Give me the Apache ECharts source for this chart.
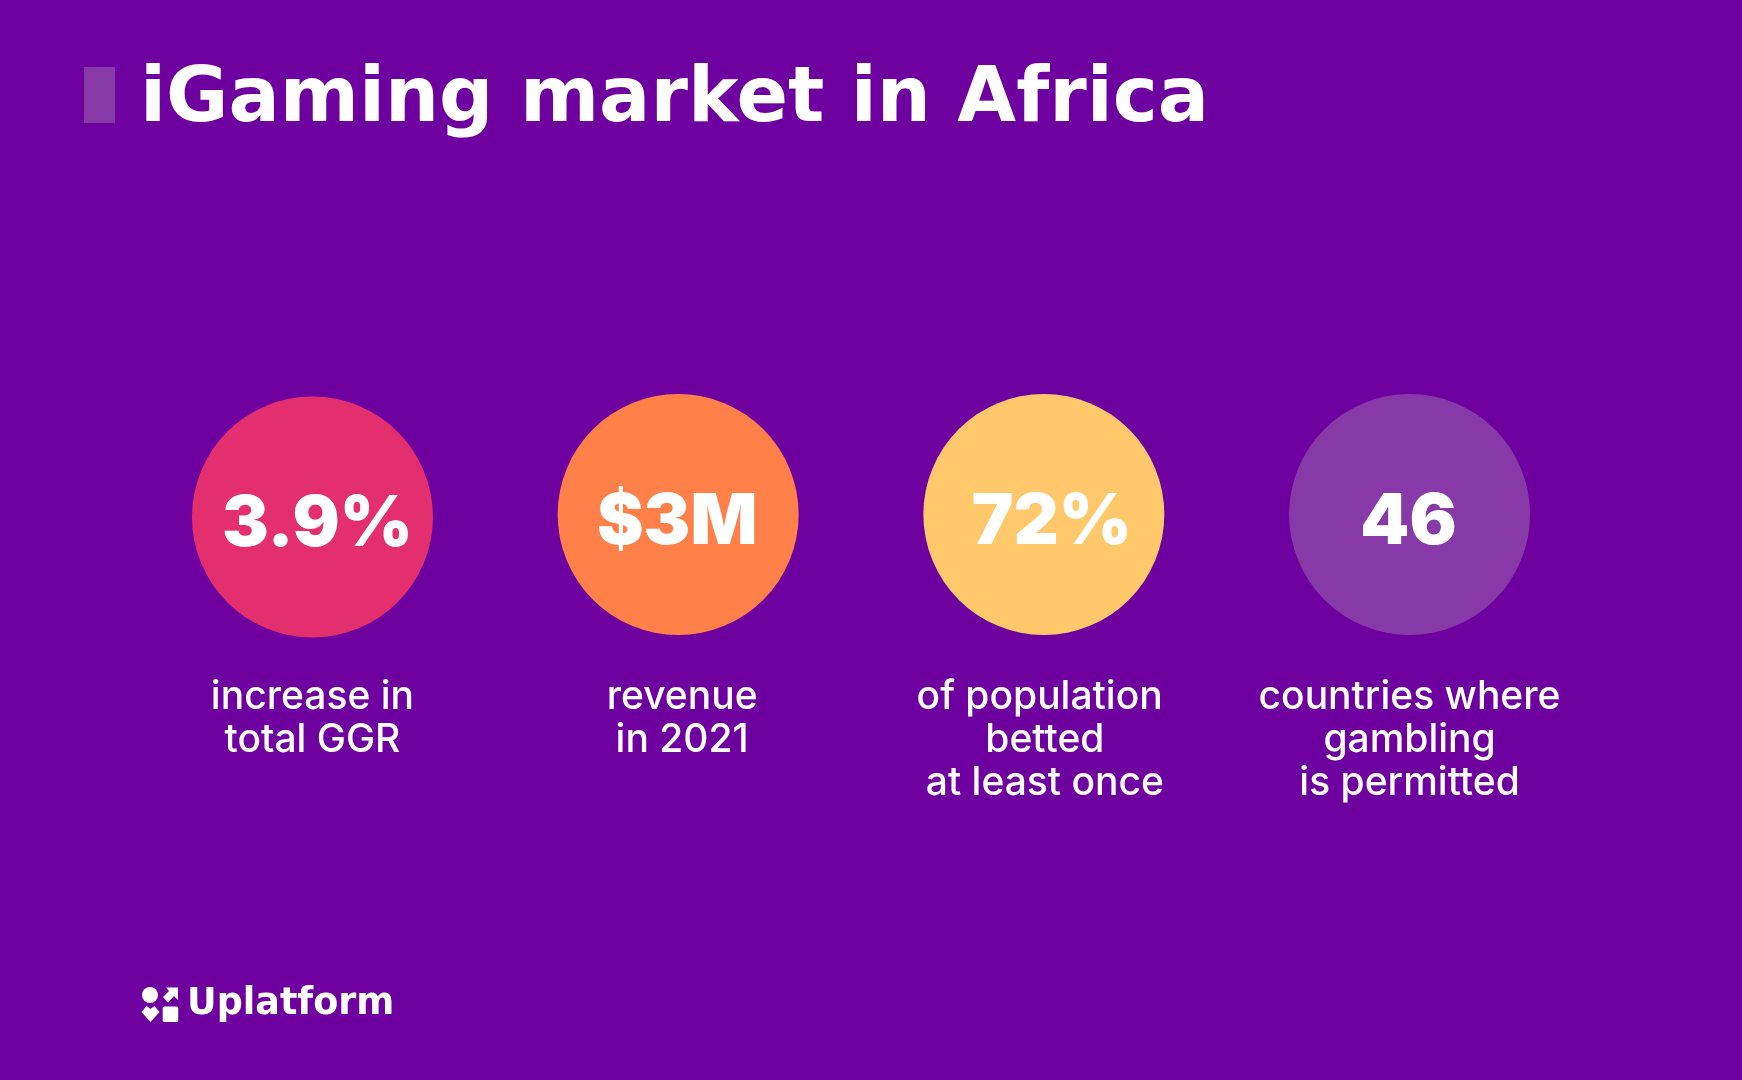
<!DOCTYPE html>
<html>
<head>
<meta charset="utf-8">
<title>iGaming market in Africa</title>
<style>
  html, body { margin: 0; padding: 0; background: #6d009e; }
  #chart { width: 1742px; height: 1080px; }
</style>
<script src="https://cdn.jsdelivr.net/npm/echarts@6/dist/echarts.min.js"></script>
</head>
<body>
<div id="chart"></div>
<script>
const titleText = 'iGaming market in Africa';
const stats = ['3.9%', '$3M', '72%', '46'];
const captions = [
  'increase in\ntotal GGR',
  'revenue\nin 2021',
  'of population \nbetted\nat least once',
  'countries where\ngambling\nis permitted'
];
const circleColors = ['#e42f6f', '#ff8049', '#ffc86b', '#8839a8'];
const brandName = 'Uplatform';

// small per-item nudges, the source layout is not quite regular
const circleShift = [2.5, 0, 0, 0];
const statShift = [[5, 8], [-1, 8], [8, 8], [-1, 8]];
const captionShift = [0, 4, 1, 0];

const wideFont = 'DejaVu Sans';
const font = 'Inter';
const purple = '#8839a8';

const chart = echarts.init(document.getElementById('chart'));

chart.setOption({
  backgroundColor: '#6d009e',
  animation: false,
  title: {
    text: titleText,
    left: 135,
    top: 58,
    textStyle: { color: '#fff', fontFamily: wideFont, fontWeight: 700, fontSize: 76 }
  },
  grid: { left: 129.6, width: 1462.8, top: 394, height: 241 },
  xAxis: { type: 'category', data: stats, show: false },
  yAxis: { type: 'category', data: ['stat'], show: false },
  series: [
    {
      type: 'scatter',
      name: 'stats',
      symbol: 'circle',
      symbolSize: 241,
      itemStyle: { opacity: 1 },
      data: stats.map((s, i) => ({
        value: [i, 0],
        symbolOffset: [0, circleShift[i]],
        itemStyle: { color: circleColors[i] },
        label: { offset: statShift[i] }
      })),
      label: {
        show: true,
        position: 'inside',
        formatter: p => stats[p.dataIndex],
        color: '#fff',
        fontFamily: font,
        fontWeight: 900,
        fontSize: 70
      }
    },
    {
      type: 'scatter',
      name: 'captions',
      symbolSize: 241,
      itemStyle: { color: 'transparent', opacity: 1 },
      data: captions.map((c, i) => ({
        value: [i, 0],
        label: { offset: [captionShift[i], 0] }
      })),
      label: {
        show: true,
        position: 'bottom',
        distance: 41,
        formatter: p => captions[p.dataIndex],
        color: '#fff',
        fontFamily: font,
        fontWeight: 500,
        fontSize: 39,
        lineHeight: 43,
        align: 'center'
      }
    }
  ],
  graphic: [
    // title marker
    { type: 'rect', shape: { x: 84, y: 67, width: 31, height: 56 }, style: { fill: purple } },
    // logo
    { type: 'circle', shape: { cx: 150, cy: 995, r: 8 }, style: { fill: '#fff' } },
    { type: 'polygon', shape: { points: [[166, 987.5], [178, 987.5], [178, 1000], [174, 996], [168, 1002.5], [163, 997], [169, 991]] }, style: { fill: '#fff' } },
    { type: 'polygon', shape: { points: [[141.5, 1012], [146.5, 1006], [150.5, 1009], [154.5, 1006], [159.5, 1012], [150.5, 1022]] }, style: { fill: '#fff' } },
    { type: 'rect', shape: { x: 162.7, y: 1006.5, width: 15.5, height: 15.5, r: 1.5 }, style: { fill: '#fff' } },
    {
      type: 'text',
      x: 187,
      y: 1005,
      style: { text: brandName, fill: '#fff', fontFamily: wideFont, fontWeight: 700, fontSize: 36.5, verticalAlign: 'middle' }
    }
  ]
});
</script>
</body>
</html>
